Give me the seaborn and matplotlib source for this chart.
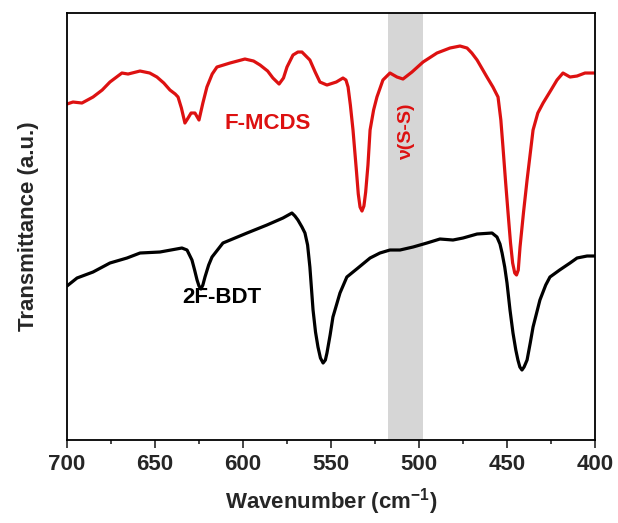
import matplotlib
matplotlib.use("Agg")
import matplotlib.pyplot as plt
import seaborn as sns
from matplotlib.ticker import MultipleLocator

# F-MCDS spectrum (red), wavenumber in cm-1 and offset transmittance (a.u.)
red_wn = [700, 696.6, 691.5, 685.2, 680.0, 675.6, 668.8, 665.3, 658.5, 653.0,
          648.9, 645.0, 641.5, 638.5, 636.9, 635.0, 633.0, 631.2, 629.5, 627.3,
          625.0, 622.8, 620.5, 617.5, 614.8, 607.4, 598.9, 594.0, 590.3, 586.0,
          583.0, 579.5, 577.0, 575.0, 571.6, 568.8, 566.5, 562.0, 559.0, 556.3,
          552.3, 547.0, 543.2, 541.5, 540.3, 539.0, 537.5, 535.5, 534.5, 533.5,
          532.4, 531.3, 530.3, 529.0, 527.8, 525.8, 523.9, 520.5, 516.5, 512.5,
          509.1, 504.0, 497.7, 489.8, 482.4, 476.7, 472.7, 470.0, 467.0, 461.4,
          458.0, 455.1, 453.5, 452.3, 450.8, 449.4, 448.0, 446.8, 445.6, 444.6,
          443.6, 442.6, 440.6, 438.6, 435.2, 432.5, 429.5, 425.0, 421.6, 418.2,
          414.2, 410.2, 405.7, 401.1, 400]
red_t = [336, 338, 337, 343, 350, 358, 367, 366, 369, 367,
         363, 357, 350, 346, 343, 332, 317, 322, 327, 327,
         320, 337, 353, 366, 373, 377, 381, 379, 375, 369,
         362, 356, 362, 373, 385, 388, 388, 380, 368, 358,
         355, 358, 362, 360, 353, 335, 310, 268, 246, 233,
         229, 234, 248, 275, 310, 330, 343, 360, 367, 363,
         361, 368, 378, 387, 392, 394, 392, 387, 380, 363,
         353, 343, 320, 293, 258, 227, 197, 177, 167, 165,
         170, 193, 228, 260, 310, 327, 337, 350, 360, 367,
         363, 364, 367, 367, 367]

# 2F-BDT spectrum (black)
blk_wn = [700, 694.3, 685.2, 675.6, 665.9, 658.5, 647.2, 634.7, 631.8, 629.0,
          627.5, 626.1, 625.0, 623.9, 622.8, 621.6, 619.5, 617.6, 611.4, 597.7,
          586.4, 577.3, 572.2, 570.5, 568.8, 566.5, 564.8, 563.3, 562.0, 560.2,
          558.8, 557.4, 556.0, 554.5, 553.2, 552.3, 550.5, 548.9, 544.9, 541.0,
          534.7, 527.8, 522.2, 516.5, 510.8, 503.4, 495.5, 488.1, 480.7, 475.0,
          467.0, 458.5, 455.7, 454.0, 452.8, 451.3, 450.0, 448.3, 446.6, 445.0,
          443.8, 442.7, 441.5, 440.3, 438.6, 436.8, 435.2, 431.3, 428.0, 425.6,
          420.1, 414.2, 410.2, 404.5, 400]
blk_t = [154, 162, 168, 177, 182, 187, 188, 192, 190, 180,
         170, 160, 154, 151, 155, 163, 175, 183, 197, 207,
         215, 222, 227, 224, 220, 213, 207, 195, 173, 130,
         108, 93, 82, 77, 80, 87, 105, 123, 147, 163,
         172, 182, 187, 190, 190, 193, 197, 201, 200, 202,
         206, 207, 203, 196, 187, 173, 157, 130, 107, 90,
         80, 73, 70, 73, 80, 97, 113, 140, 155, 163,
         170, 177, 182, 184, 184]

band = [517.5, 498]
x_ticks = [700, 650, 600, 550, 500, 450, 400]

sns.set_style("ticks")
plt.rcParams['font.family'] = ['Liberation Sans', 'DejaVu Sans']
plt.rcParams['font.weight'] = 'bold'
plt.rcParams['mathtext.fontset'] = 'custom'
plt.rcParams['mathtext.rm'] = 'Liberation Sans:bold'
plt.rcParams['mathtext.bf'] = 'Liberation Sans:bold'

fig = plt.figure(figsize=(6.18, 5.23), dpi=100)
ax = fig.add_axes([0.1084, 0.1587, 0.8544, 0.8164])

ax.axvspan(band[0], band[1], color="#d6d6d6", lw=0, zorder=0)
sns.lineplot(x=red_wn, y=red_t, ax=ax, color="#dd1111", lw=2.3, sort=False)
sns.lineplot(x=blk_wn, y=blk_t, ax=ax, color="black", lw=2.3, sort=False)

ax.set_xlim(700, 400)
ax.set_ylim(0, 427)
ax.set_xticks(x_ticks)
ax.xaxis.set_minor_locator(MultipleLocator(25))
ax.set_yticks([])
ax.tick_params(axis="x", which="major", direction="out", length=6, width=1.2,
               labelsize=16, pad=4)
ax.tick_params(axis="x", which="minor", direction="out", length=3, width=1.2)
for lab in ax.get_xticklabels():
    lab.set_fontweight("bold")
for sp in ax.spines.values():
    sp.set_linewidth(1.3)
    sp.set_color("black")

ax.set_xlabel("Wavenumber (cm$^{\\mathrm{-1}}$)", fontsize=16, fontweight="bold", labelpad=8)
ax.set_ylabel("Transmittance (a.u.)", fontsize=16, fontweight="bold", labelpad=20)

ax.text(586, 317, "F-MCDS", color="#dd1111", fontsize=16, fontweight="bold",
        ha="center", va="center")
ax.text(612, 143, "2F-BDT", color="black", fontsize=16, fontweight="bold",
        ha="center", va="center")
ax.text(507, 308, "ν(S-S)", color="#dd1111", fontsize=14, fontweight="bold",
        ha="center", va="center", rotation=90)

plt.savefig("out.png", dpi=100)
